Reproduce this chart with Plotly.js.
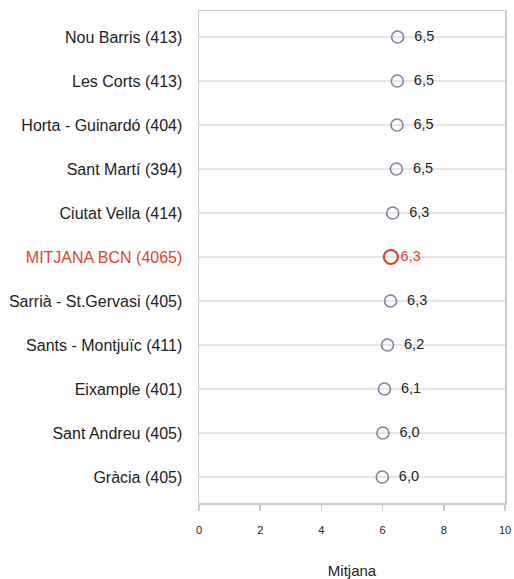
<!DOCTYPE html>
<html>
<head>
<meta charset="utf-8">
<script src="https://cdn.plot.ly/plotly-3.0.1.min.js"></script>
<style>html,body{margin:0;padding:0;background:#fff}#chart{width:514px;height:579px}</style>
</head>
<body>
<div id="chart"></div>
<script>
const districts = ["Nou Barris (413)","Les Corts (413)","Horta - Guinardó (404)","Sant Martí (394)","Ciutat Vella (414)","MITJANA BCN (4065)","Sarrià - St.Gervasi (405)","Sants - Montjuïc (411)","Eixample (401)","Sant Andreu (405)","Gràcia (405)"];
const means = [6.49, 6.48, 6.47, 6.45, 6.33, 6.27, 6.26, 6.16, 6.06, 6.01, 5.99];
const averageLabel = "MITJANA BCN (4065)";
const xTicks = [0, 2, 4, 6, 8, 10];

const fmt = v => v.toFixed(1).replace('.', ',');
const isAvg = districts.map(d => d === averageLabel);
const idx = districts.map((d, i) => i);

const regular = idx.filter(i => !isAvg[i]);
const avg = idx.filter(i => isAvg[i]);

const traceRegular = {
  type: 'scatter', mode: 'markers+text',
  x: regular.map(i => means[i]),
  y: regular.map(i => i),
  text: regular.map(i => '\u00a0\u00a0' + fmt(means[i])),
  textposition: 'middle right',
  textfont: {family: 'Liberation Sans, Arial, sans-serif', size: 14.5, color: '#222'},
  marker: {symbol: 'circle-open', size: 12, color: '#8a7fa3', line: {width: 1.6, color: '#8a7fa3'}},
  hoverinfo: 'skip', showlegend: false, cliponaxis: false
};
const traceAvg = {
  type: 'scatter', mode: 'markers+text',
  x: avg.map(i => means[i]),
  y: avg.map(i => i),
  text: avg.map(i => fmt(means[i])),
  textposition: 'middle right',
  textfont: {family: 'Liberation Sans, Arial, sans-serif', size: 14.5, color: '#e0432b'},
  marker: {symbol: 'circle-open', size: 14, color: '#e0432b', line: {width: 2.2, color: '#e0432b'}},
  hoverinfo: 'skip', showlegend: false, cliponaxis: false
};

const layout = {
  width: 514, height: 579,
  margin: {l: 199, r: 9, t: 11, b: 76},
  paper_bgcolor: '#fff', plot_bgcolor: '#fff',
  font: {family: 'Liberation Sans, Arial, sans-serif', color: '#222'},
  xaxis: {
    range: [0, 10], tickvals: xTicks, ticktext: xTicks.map(String),
    showgrid: false, zeroline: false,
    showline: true, mirror: true, linecolor: '#cccccc', linewidth: 1.5,
    ticks: 'outside', ticklen: 6, tickcolor: '#cccccc', tickwidth: 1.5,
    ticklabelstandoff: 10,
    tickfont: {size: 11, color: '#222'},
    title: {text: 'Mitjana', font: {size: 15, color: '#222'}, standoff: 33}
  },
  yaxis: {
    range: [10.59, -0.59],
    tickvals: idx,
    ticktext: districts.map((d, i) => isAvg[i] ? '<span style="color:#e0432b">' + d + '</span>' : d),
    showgrid: true, gridcolor: '#e6e6e6', gridwidth: 1.5,
    zeroline: false,
    showline: true, mirror: true, linecolor: '#cccccc', linewidth: 1.5,
    ticks: '', ticklabelstandoff: 12,
    tickfont: {size: 16, color: '#222'}
  }
};

Plotly.newPlot('chart', [traceRegular, traceAvg], layout, {staticPlot: true, displayModeBar: false});
</script>
</body>
</html>
